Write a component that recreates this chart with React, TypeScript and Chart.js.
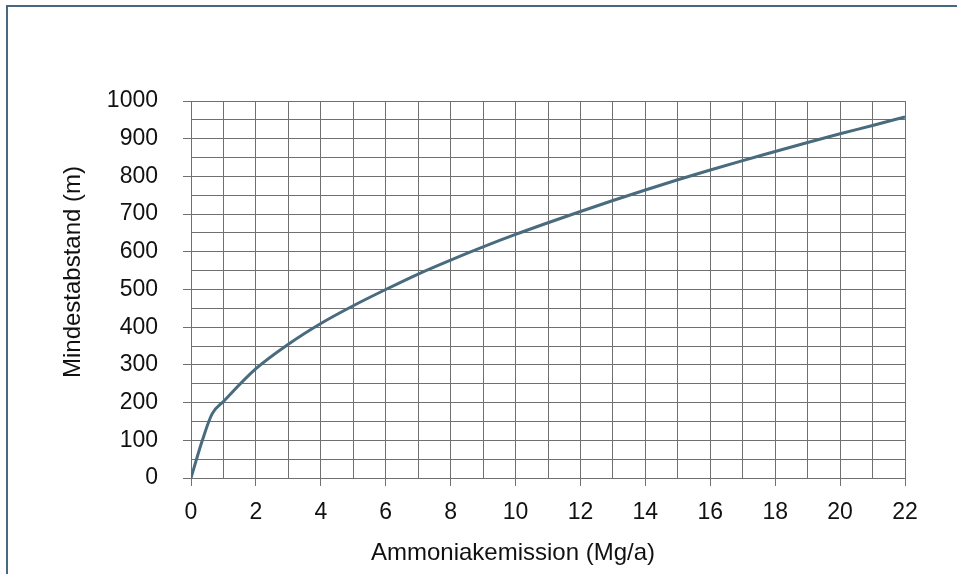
import React, { useEffect, useRef } from "react";
import { Chart, registerables } from "chart.js";

Chart.register(...registerables);

const emissionValues: number[] = [0, 0.35, 0.65, 1, 2, 3, 4, 5, 6, 7, 8, 9, 10, 11, 12, 13, 14, 15, 16, 17, 18, 19, 20, 21, 22];
const distanceValues: number[] = [0, 100, 170, 203, 290, 355, 410, 457, 500, 541, 578, 613, 646, 677, 707, 736, 764, 791, 817, 842, 866, 890, 913, 935, 958];
const xTitle = "Ammoniakemission (Mg/a)";
const yTitle = "Mindestabstand (m)";

const FONT = "'Liberation Sans', Arial, sans-serif";
const LINE_COLOR = "#486b7e";
const GRID_COLOR = "#707070";

const titlePlugin = {
  id: "axisTitles",
  afterDraw(chart: any) {
    const ctx = chart.ctx;
    ctx.save();
    ctx.fillStyle = "#111";
    ctx.font = `24px ${FONT}`;
    ctx.textAlign = "center";
    ctx.textBaseline = "middle";
    ctx.fillText(xTitle, 513, 553);
    ctx.translate(73, 272);
    ctx.rotate(-Math.PI / 2);
    ctx.fillText(yTitle, 0, 0);
    ctx.restore();
  },
};

export default function App() {
  const ref = useRef<HTMLCanvasElement | null>(null);
  useEffect(() => {
    document.body.style.margin = "0";
    const canvas = ref.current;
    if (!canvas) return;
    const chart = new Chart(canvas, {
      type: "line",
      data: {
        datasets: [
          {
            data: emissionValues.map((x, i) => ({ x, y: distanceValues[i] })),
            borderColor: LINE_COLOR,
            borderWidth: 3,
            pointRadius: 0,
            cubicInterpolationMode: "monotone",
            fill: false,
          },
        ],
      },
      options: {
        animation: false,
        responsive: false,
        devicePixelRatio: 1,
        layout: { padding: { top: 101, right: 52, left: 0, bottom: 0 } },
        plugins: { legend: { display: false }, tooltip: { enabled: false } },
        scales: {
          x: {
            type: "linear",
            min: 0,
            max: 22,
            afterFit: (s: any) => {
              s.height = 96;
            },
            grid: {
              color: GRID_COLOR,
              lineWidth: 1,
              tickLength: 8,
              tickColor: (c: any) => (c.tick && Math.round(c.tick.value) % 2 === 0 ? GRID_COLOR : "rgba(0,0,0,0)"),
            },
            border: { display: true, color: GRID_COLOR },
            ticks: {
              stepSize: 1,
              autoSkip: false,
              maxRotation: 0,
              padding: 13,
              color: "#111",
              font: { family: FONT, size: 23 },
              callback: (v: any) => (Math.round(v) % 2 === 0 ? String(v) : ""),
            },
          },
          y: {
            type: "linear",
            min: 0,
            max: 1000,
            afterFit: (s: any) => {
              s.width = 191;
            },
            grid: {
              color: GRID_COLOR,
              lineWidth: 1,
              tickLength: 8,
              tickColor: (c: any) => (c.tick && Math.round(c.tick.value) % 100 === 0 ? GRID_COLOR : "rgba(0,0,0,0)"),
            },
            border: { display: true, color: GRID_COLOR },
            ticks: {
              stepSize: 50,
              autoSkip: false,
              padding: 25,
              color: "#111",
              font: { family: FONT, size: 23 },
              callback: (v: any) => (Math.round(v) % 100 === 0 ? String(v) : ""),
            },
          },
        },
      },
      plugins: [titlePlugin],
    });
    return () => chart.destroy();
  }, []);

  return (
    <div style={{ position: "fixed", left: 0, top: 0, width: 957, height: 574, overflow: "hidden", background: "#fff" }}>
      <div
        style={{
          position: "absolute",
          left: 6,
          top: 5,
          width: 1100,
          height: 1100,
          border: "2px solid #46697e",
          boxSizing: "border-box",
        }}
      />
      <canvas ref={ref} width={957} height={574} style={{ position: "absolute", left: 0, top: 0 }} />
    </div>
  );
}
